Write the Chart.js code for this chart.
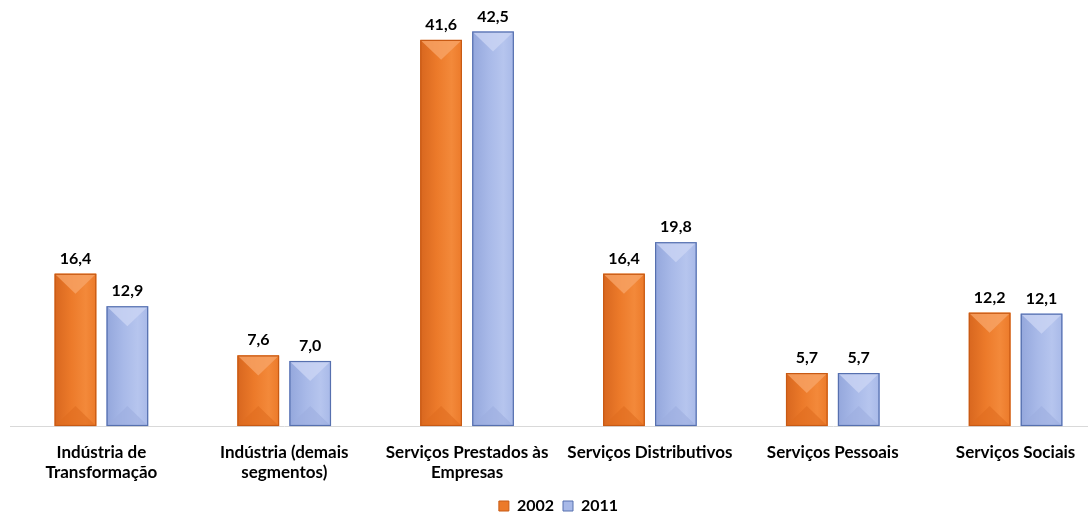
<!DOCTYPE html>
<html><head><meta charset="utf-8">
<script src="https://cdn.jsdelivr.net/npm/chart.js@4"></script>
<style>html,body{margin:0;padding:0;background:#fff;overflow:hidden}#w{width:1121px;height:516px}</style>
</head><body><div id="w"><canvas id="c"></canvas></div>
<script>
const categories = [["Indústria de","Transformação"],["Indústria (demais","segmentos)"],["Serviços Prestados às","Empresas"],"Serviços Distributivos","Serviços Pessoais","Serviços Sociais"];
const series2002 = [16.4, 7.6, 41.6, 16.4, 5.7, 12.2];
const series2011 = [12.9, 7.0, 42.5, 19.8, 5.7, 12.1];
const seriesNames = ["2002","2011"];
const FONT = "Lato, 'Open Sans', sans-serif";

const styles = [
  {main:'#EC7A2A', left:'#D8671F', right:'#F3893A', top:'#F7A466', bottom:'#E06C20', border:'#C85A14'},
  {main:'#A8B9E8', left:'#94A7DC', right:'#B6C5EE', top:'#CAD5F4', bottom:'#9CADE0', border:'#5670AF'}
];

const bevel = {
  id:'bevel',
  afterDatasetsDraw(chart){
    const c = chart.ctx;
    chart.data.datasets.forEach((ds,di)=>{
      const meta = chart.getDatasetMeta(di);
      meta.data.forEach(el=>{
        const w = el.width, x0 = el.x - w/2, x1 = el.x + w/2, top = el.y, bot = el.base;
        if(![w,x0,top,bot].every(Number.isFinite)) return;
        const h = bot - top;
        const d = Math.min(w*0.48, h/2);
        c.save();
        const g = c.createLinearGradient(x0,0,x1,0);
        g.addColorStop(0, styles[di].left);
        g.addColorStop(0.4, styles[di].main);
        g.addColorStop(0.75, styles[di].right);
        g.addColorStop(1, styles[di].main);
        c.fillStyle = g; c.fillRect(x0, top, w, h);
        c.globalAlpha = 0.8;
        c.fillStyle = styles[di].top;
        c.beginPath(); c.moveTo(x0,top); c.lineTo(x1,top); c.lineTo(el.x,top+d); c.closePath(); c.fill();
        c.globalAlpha = 0.6;
        c.fillStyle = styles[di].bottom;
        c.beginPath(); c.moveTo(x0,bot); c.lineTo(x1,bot); c.lineTo(el.x,bot-d); c.closePath(); c.fill();
        c.globalAlpha = 1;
        c.strokeStyle = styles[di].border; c.lineWidth = 1.2;
        c.strokeRect(x0+0.5, top+0.5, w-1, h-1);
        c.restore();
      });
    });
  },
  afterDraw(chart){
    const c = chart.ctx;
    c.save();
    c.font = "bold 16px " + FONT; c.fillStyle = '#000'; c.textAlign='center'; c.textBaseline='alphabetic';
    chart.data.datasets.forEach((ds,di)=>{
      chart.getDatasetMeta(di).data.forEach((el,i)=>{
        c.fillText(ds.data[i].toFixed(1).replace('.',','), el.x, el.y - 10);
      });
    });
    c.restore();
  }
};

new Chart(document.getElementById('c'), {
  type:'bar',
  data:{
    labels: categories,
    datasets:[
      {label:seriesNames[0], data:series2002, backgroundColor:styles[0].main, borderWidth:0},
      {label:seriesNames[1], data:series2011, backgroundColor:styles[1].main, borderWidth:0}
    ]
  },
  options:{
    responsive:true, maintainAspectRatio:false, animation:false,
    layout:{padding:{left:10,right:14,top:0,bottom:-8}},
    scales:{
      x:{grid:{display:false}, border:{display:true,color:'#d9d9d9'},
         ticks:{color:'#000', font:{family:FONT,size:17,weight:'bold',lineHeight:1.18}, padding:8, maxRotation:0, autoSkip:false},
         afterFit(scale){ scale.height = 63; }},
      y:{display:false, min:0, max:45.9}
    },
    datasets:{bar:{categoryPercentage:0.568, barPercentage:0.8}},
    plugins:{
      legend:{position:'bottom', labels:{color:'#000', boxWidth:10, boxHeight:10, padding:9, font:{family:FONT,size:16,weight:'bold'},
        generateLabels(chart){
          return chart.data.datasets.map((ds,i)=>({text:ds.label, fillStyle:styles[i].main, strokeStyle:styles[i].border, lineWidth:1, datasetIndex:i, hidden:false}));
        }}},
      tooltip:{enabled:false}
    }
  },
  plugins:[bevel]
});
</script></body></html>
